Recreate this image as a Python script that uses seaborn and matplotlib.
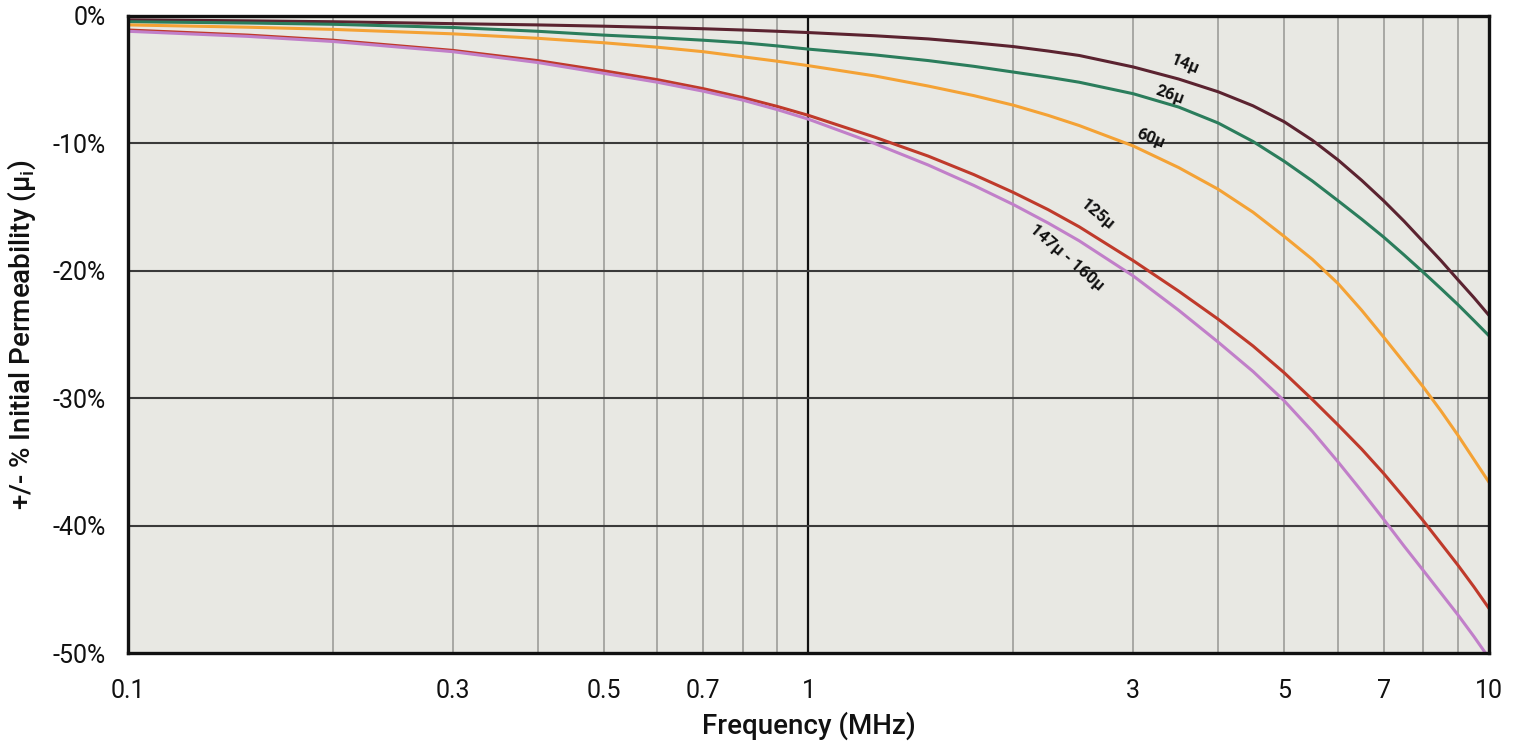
import matplotlib
matplotlib.use("Agg")
import matplotlib.pyplot as plt
from matplotlib.ticker import FixedLocator, NullFormatter
import pandas as pd
import seaborn as sns

# Frequency sample points (MHz)
freq = [0.1, 0.15, 0.2, 0.3, 0.4, 0.5, 0.6, 0.7, 0.8, 0.9,
        1, 1.25, 1.5, 1.75, 2, 2.25, 2.5, 3, 3.5, 4,
        4.5, 5, 5.5, 6, 6.5, 7, 7.5, 8, 8.5, 9, 9.5, 10]

# Percent change of initial permeability for each material grade
perm_14 = [-0.3, -0.38, -0.45, -0.6, -0.7, -0.8, -0.9, -1.0, -1.1, -1.2,
           -1.3, -1.55, -1.8, -2.1, -2.4, -2.75, -3.1, -4.0, -4.95, -5.95,
           -7.05, -8.3, -9.75, -11.3, -12.9, -14.5, -16.1, -17.7, -19.2, -20.7, -22.1, -23.5]
perm_26 = [-0.45, -0.55, -0.65, -0.9, -1.2, -1.5, -1.7, -1.9, -2.1, -2.35,
           -2.6, -3.05, -3.5, -3.95, -4.4, -4.8, -5.2, -6.1, -7.15, -8.4,
           -9.85, -11.4, -12.95, -14.5, -15.95, -17.35, -18.75, -20.1, -21.4, -22.65, -23.9, -25.1]
perm_60 = [-0.7, -0.88, -1.05, -1.4, -1.75, -2.1, -2.45, -2.8, -3.2, -3.55,
           -3.9, -4.7, -5.5, -6.25, -7.0, -7.8, -8.6, -10.2, -11.9, -13.6,
           -15.4, -17.3, -19.1, -21.0, -23.1, -25.2, -27.2, -29.1, -31.0, -32.9, -34.8, -36.6]
perm_125 = [-1.1, -1.5, -1.9, -2.7, -3.5, -4.3, -5.0, -5.7, -6.4, -7.1,
            -7.8, -9.5, -11.0, -12.45, -13.85, -15.2, -16.55, -19.2, -21.6, -23.8,
            -25.9, -28.0, -30.1, -32.1, -34.0, -35.9, -37.8, -39.6, -41.4, -43.1, -44.8, -46.5]
perm_147 = [-1.2, -1.6, -2.0, -2.8, -3.65, -4.5, -5.2, -5.9, -6.6, -7.35,
            -8.1, -10.0, -11.7, -13.3, -14.8, -16.25, -17.65, -20.4, -23.1, -25.6,
            -27.9, -30.2, -32.6, -35.0, -37.3, -39.5, -41.6, -43.5, -45.3, -47.0, -48.7, -50.4]

series_names = ["14μ", "26μ", "60μ", "125μ", "147μ - 160μ"]
series_values = [perm_14, perm_26, perm_60, perm_125, perm_147]
colors = ["#5b2330", "#2b7d5c", "#f4a235", "#bf3a2b", "#c17fc9"]

x_ticks = [0.1, 0.3, 0.5, 0.7, 1, 3, 5, 7, 10]
x_tick_labels = ["0.1", "0.3", "0.5", "0.7", "1", "3", "5", "7", "10"]
x_minor = [0.2, 0.4, 0.6, 0.8, 0.9, 2, 4, 6, 8, 9]
y_ticks = [0, -10, -20, -30, -40, -50]
y_tick_labels = ["0%", "-10%", "-20%", "-30%", "-40%", "-50%"]

# Curve annotations: text, x (MHz), y (%), rotation
label_pos = [
    ("14μ", 3.58, -3.8, -22),
    ("26μ", 3.40, -6.2, -20),
    ("60μ", 3.18, -9.6, -22),
    ("125μ", 2.66, -15.6, -40),
    ("147μ - 160μ", 2.40, -19.0, -41),
]

rows = []
for name, vals in zip(series_names, series_values):
    for f, v in zip(freq, vals):
        rows.append({"freq": f, "perm": v, "grade": name})
df = pd.DataFrame(rows)

sns.set_theme(style="white")
plt.rcParams["font.family"] = ["Roboto", "DejaVu Sans"]

fig = plt.figure(figsize=(15.14, 7.44), dpi=100)
ax = fig.add_axes([0.0845, 0.1223, 0.899, 0.8562])
ax.set_facecolor("#e8e8e3")

sns.lineplot(data=df, x="freq", y="perm", hue="grade",
             palette=dict(zip(series_names, colors)),
             hue_order=series_names, estimator=None, sort=False,
             linewidth=2.2, legend=False, ax=ax, zorder=3)

ax.set_xscale("log")
ax.set_xlim(0.1, 10)
ax.set_ylim(-50, 0)

ax.xaxis.set_major_locator(FixedLocator(x_ticks))
ax.set_xticklabels(x_tick_labels)
ax.xaxis.set_minor_locator(FixedLocator(x_minor))
ax.xaxis.set_minor_formatter(NullFormatter())
ax.set_yticks(y_ticks)
ax.set_yticklabels(y_tick_labels)

# Grid: grey verticals, dark horizontals, black line at 1 MHz
ax.grid(False)
for xv in x_ticks[1:-1] + x_minor:
    ax.axvline(xv, color="#a8a8a4", linewidth=1.4, zorder=1)
ax.axvline(1, color="#111111", linewidth=1.6, zorder=2)
for yv in y_ticks[1:-1]:
    ax.axhline(yv, color="#3a3a3a", linewidth=1.5, zorder=2)

for side in ["left", "right", "top", "bottom"]:
    ax.spines[side].set_visible(True)
    ax.spines[side].set_color("#111111")
    ax.spines[side].set_linewidth(2.4)
    ax.spines[side].set_zorder(5)

ax.tick_params(axis="both", which="major", direction="out", length=12,
               width=1.3, color="#555555", labelsize=18, labelcolor="#111111")
ax.tick_params(axis="x", which="major", pad=7)
ax.tick_params(axis="y", which="major", pad=4)
ax.tick_params(axis="x", which="minor", length=0)

ax.set_xlabel("Frequency (MHz)", fontsize=20, fontweight="medium",
              color="#111111", labelpad=6)
ax.set_ylabel(r"+/- % Initial Permeability (μ$_\mathregular{i}$)",
              fontsize=20, fontweight="medium", color="#111111", labelpad=10)

for text, xv, yv, rot in label_pos:
    ax.text(xv, yv, text, rotation=rot, fontsize=12, fontweight="bold",
            color="#111111", ha="center", va="center",
            rotation_mode="anchor", zorder=6)

fig.savefig("out.png", dpi=100, facecolor="white")
